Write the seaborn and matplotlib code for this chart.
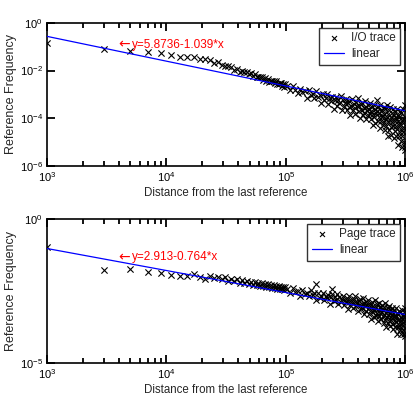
import numpy as np
import pandas as pd
import seaborn as sns
import matplotlib
matplotlib.use("Agg")
import matplotlib.pyplot as plt
from matplotlib.ticker import LogLocator, FixedLocator, NullLocator

# distances (in thousands) at which both traces were sampled
distance_k = [1, 3, 5, 7, 9, 11, 13, 15, 17, 19, 21,
              23, 25, 27, 29, 31, 33, 35, 37, 39, 41, 43, 45, 47, 49, 51, 53, 55, 57, 59,
              61, 63, 65, 67, 69, 71, 73, 75, 77, 79, 81, 83, 85, 87, 89, 91, 93, 95, 97, 99,
              102, 108, 114, 120, 126, 132, 138, 144, 150, 156,
              162, 168, 174, 180, 186, 192, 198, 204, 210, 216,
              222, 228, 234, 240, 246, 252, 258, 264, 270, 276,
              282, 288, 294, 300, 306, 312, 318, 324, 330, 336,
              342, 348, 354, 360, 366, 372, 378, 384, 390, 396,
              402, 408, 414, 420, 426, 432, 438, 444, 450, 456,
              462, 468, 474, 480, 486, 492, 498, 504, 510, 516,
              522, 528, 534, 540, 546, 552, 558, 564, 570, 576,
              582, 588, 594, 600, 606, 612, 618, 624, 630, 636,
              642, 648, 654, 660, 666, 672, 678, 684, 690, 696,
              702, 708, 714, 720, 726, 732, 738, 744, 750, 756,
              762, 768, 774, 780, 786, 792, 798, 804, 810, 816,
              822, 828, 834, 840, 846, 852, 858, 864, 870, 876,
              882, 888, 894, 900, 906, 912, 918, 924, 930, 936,
              942, 948, 954, 960, 966, 972, 978, 984, 990, 996,
              1000]

# log10 of reference frequency, I/O trace
io_log_freq = [-0.84, -1.09, -1.18, -1.24, -1.26, -1.34, -1.43, -1.43, -1.45, -1.51, -1.51,
               -1.55, -1.70, -1.64, -1.78, -1.80, -1.82, -1.83, -1.97, -1.92, -2.05, -2.03, -2.06,
               -2.04, -2.16, -2.10, -2.22, -2.15, -2.28, -2.27, -2.25, -2.26, -2.38, -2.30, -2.42,
               -2.34, -2.47, -2.44, -2.45, -2.42, -2.54, -2.45, -2.57, -2.55, -2.52, -2.52, -2.64,
               -2.55, -2.67, -2.58,
               -2.65, -2.81, -2.65, -2.80, -2.95, -2.76, -2.91, -2.87, -3.14, -2.82,
               -3.04, -2.98, -3.16, -2.85, -3.10, -3.01, -3.35, -3.00, -3.25, -3.16,
               -2.99, -3.40, -3.16, -3.29, -3.12, -3.60, -3.24, -3.10, -3.47, -3.22,
               -3.37, -3.07, -3.64, -3.24, -3.50, -3.35, -3.19, -3.64, -3.36, -3.51,
               -3.26, -3.85, -3.47, -3.21, -3.65, -3.38, -3.55, -3.81, -3.32, -3.50,
               -3.17, -3.69, -3.48, -3.97, -3.41, -3.65, -3.34, -3.85, -3.58, -3.78,
               -3.27, -3.52, -4.05, -3.67, -3.44, -3.88, -3.60, -3.80, -3.36, -4.03,
               -3.68, -3.53, -4.28, -3.82, -3.44, -3.93, -3.62, -4.18, -3.79, -3.24,
               -3.70, -4.11, -3.54, -3.95, -3.79, -4.39, -3.44, -4.12, -3.70, -3.95,
               -3.65, -4.29, -3.92, -3.54, -4.14, -3.82, -4.49, -3.62, -4.05, -4.33,
               -3.43, -3.93, -4.73, -3.80, -4.17, -3.66, -4.49, -4.06, -3.53, -4.38,
               -3.93, -4.70, -3.78, -4.17, -4.33, -3.63, -4.02, -4.81, -3.88, -4.53,
               -4.13, -3.73, -4.31, -4.73, -3.99, -3.59, -4.43, -4.10, -5.13, -3.85,
               -4.29, -4.73, -3.96, -3.69, -4.58, -4.24, -4.96, -3.79, -4.43, -4.08,
               -4.74, -5.21, -4.19, -3.63, -4.57, -4.01, -4.98, -4.41, -5.19, -3.94,
               -3.45]
io_extra_k = [1000]
io_extra_log = [-5.32]

# log10 of reference frequency, page trace
page_log_freq = [-0.97, -1.77, -1.74, -1.84, -1.87, -1.94, -1.98, -1.98, -1.91, -2.01, -2.08,
                 -1.97, -2.06, -2.00, -2.10, -2.03, -2.14, -2.08, -2.17, -2.10, -2.21, -2.13, -2.23,
                 -2.15, -2.26, -2.18, -2.28, -2.20, -2.30, -2.21, -2.32, -2.24, -2.34, -2.25, -2.36,
                 -2.27, -2.38, -2.29, -2.39, -2.30, -2.41, -2.32, -2.42, -2.33, -2.44, -2.35, -2.45,
                 -2.36, -2.46, -2.37,
                 -2.45, -2.56, -2.41, -2.52, -2.49, -2.68, -2.46, -2.61, -2.56, -2.69,
                 -2.48, -2.64, -2.58, -2.80, -2.57, -2.74, -2.68, -2.56, -2.83, -2.66,
                 -2.75, -2.64, -2.96, -2.72, -2.62, -2.86, -2.70, -2.80, -2.60, -2.97,
                 -2.71, -2.88, -2.79, -2.68, -2.98, -2.80, -2.90, -2.73, -3.12, -2.87,
                 -2.69, -3.00, -2.81, -2.93, -3.11, -2.77, -2.90, -2.67, -3.03, -2.89,
                 -3.21, -2.84, -3.00, -2.79, -3.13, -2.96, -3.09, -2.75, -2.92, -3.29,
                 -3.03, -2.87, -3.18, -2.99, -3.13, -2.82, -3.29, -3.04, -2.95, -3.46,
                 -3.15, -2.89, -3.23, -3.02, -3.40, -3.15, -2.80, -3.08, -3.36, -2.97,
                 -3.26, -3.14, -3.56, -2.91, -3.36, -3.09, -3.26, -3.06, -3.49, -3.23,
                 -2.99, -3.38, -3.17, -3.61, -3.05, -3.32, -3.51, -2.93, -3.26, -3.75,
                 -3.18, -3.41, -3.09, -3.60, -3.33, -3.02, -3.53, -3.26, -3.73, -3.17,
                 -3.42, -3.51, -3.10, -3.34, -3.82, -3.26, -3.64, -3.41, -3.17, -3.52,
                 -3.76, -3.33, -3.10, -3.58, -3.39, -3.98, -3.25, -3.51, -3.75, -3.31,
                 -3.18, -3.67, -3.48, -3.87, -3.24, -3.59, -3.39, -3.75, -4.00, -3.46,
                 -3.17, -3.66, -3.37, -3.87, -3.58, -3.98, -3.34, -3.39, -3.80, -3.20,
                 -3.09]
page_extra_k = [178, 246, 1000]
page_extra_log = [-2.26, -2.45, -4.05]

# ln(freq) = a + b * ln(distance)
io_fit = (5.8736, -1.039)
page_fit = (2.913, -0.764)
fit_range = [1e3, 1e6]


def trace_frame(dist_k, log_freq, extra_k, extra_log):
    d = np.array(list(dist_k) + list(extra_k), dtype=float) * 1000
    f = 10.0 ** np.array(list(log_freq) + list(extra_log))
    return pd.DataFrame({"dist": d, "freq": f})


def fit_frame(fit):
    x = np.array(fit_range)
    return pd.DataFrame({"dist": x, "freq": np.exp(fit[0] + fit[1] * np.log(x))})


def panel(ax, df, fit, trace_name, fit_text, ylim, yticks, text_y):
    sns.scatterplot(data=df, x="dist", y="freq", marker="x", color="k", s=20,
                    linewidth=0.8, label=trace_name, ax=ax, zorder=2)
    sns.lineplot(data=fit_frame(fit), x="dist", y="freq", color="#0000ff",
                 linewidth=0.9, label="linear", ax=ax, zorder=3)
    ax.set_xscale("log")
    ax.set_yscale("log")
    ax.set_xlim(1e3, 1e6)
    ax.set_ylim(*ylim)
    ax.yaxis.set_major_locator(FixedLocator(yticks))
    ax.yaxis.set_minor_locator(NullLocator())
    ax.xaxis.set_major_locator(LogLocator(base=10))
    ax.xaxis.set_minor_locator(LogLocator(base=10, subs=np.arange(2, 10), numticks=12))
    ax.tick_params(which="both", direction="in", top=True, right=True,
                   bottom=True, left=True, width=1.3, labelsize=8, pad=3, color="k")
    ax.tick_params(which="major", length=6)
    ax.tick_params(which="minor", length=3.5)
    for s in ax.spines.values():
        s.set_linewidth(1.2)
        s.set_color("k")
    ax.set_xlabel("Distance from the last reference", fontsize=8.3, labelpad=2)
    ax.set_ylabel("Reference Frequency", fontsize=9, labelpad=2)
    # red note: arrow glyph from DejaVu, formula in the text font
    ax.text(0.198, text_y, "\u2190", color="#ff0000", fontsize=10, family="DejaVu Sans",
            transform=ax.transAxes, va="center", ha="left")
    ax.text(0.236, text_y, fit_text, color="#ff0000", fontsize=8.5,
            transform=ax.transAxes, va="center", ha="left")
    leg = ax.legend(loc="upper right", fontsize=8.5, frameon=True, fancybox=False,
                    edgecolor="k", handlelength=1.7, handletextpad=0.6,
                    borderaxespad=0.4, borderpad=0.4, labelspacing=0.3,
                    markerscale=0.8)
    leg.get_frame().set_linewidth(1.0)


sns.set_style("ticks")
plt.rcParams["font.family"] = ["Liberation Sans", "DejaVu Sans"]
plt.rcParams["axes.unicode_minus"] = False
plt.rcParams.update({
    "xtick.direction": "in", "ytick.direction": "in",
    "xtick.top": True, "ytick.right": True,
    "xtick.color": "k", "ytick.color": "k",
    "axes.axisbelow": False,
})

fig = plt.figure(figsize=(4.14, 4.01), dpi=100)
ax1 = fig.add_axes([0.1135, 0.586, 0.865, 0.357])
ax2 = fig.add_axes([0.1135, 0.095, 0.865, 0.359])

io_df = trace_frame(distance_k, io_log_freq, io_extra_k, io_extra_log)
page_df = trace_frame(distance_k, page_log_freq, page_extra_k, page_extra_log)

panel(ax1, io_df, io_fit, "I/O trace", "y=5.8736-1.039*x",
      (1e-6, 1e0), [1e-6, 1e-4, 1e-2, 1e0], 0.846)
panel(ax2, page_df, page_fit, "Page trace", "y=2.913-0.764*x",
      (1e-5, 1e0), [1e-5, 1e0], 0.736)

fig.savefig("out.png", dpi=100, facecolor="white")
